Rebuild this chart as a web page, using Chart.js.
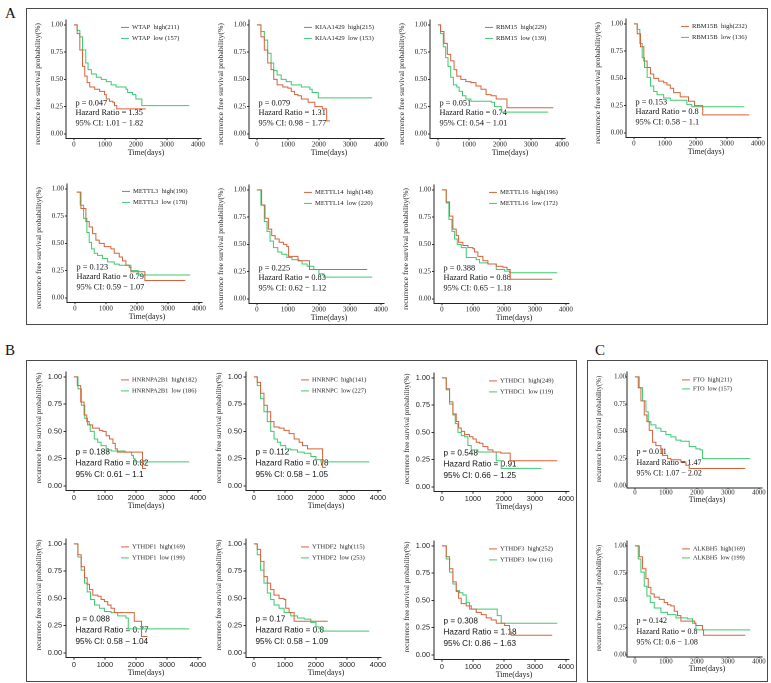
<!DOCTYPE html>
<html><head><meta charset="utf-8">
<script src="https://cdn.jsdelivr.net/npm/chart.js@4.4.1/dist/chart.umd.min.js"></script>
<style>
html,body{margin:0;padding:0;background:#fff}
body{width:771px;height:683px;position:relative;overflow:hidden}
canvas{position:absolute}
.box{position:absolute;border:1.5px solid #4a4a4a;box-sizing:border-box}
.lab{position:absolute;font-family:'Liberation Serif','Times New Roman',serif;font-size:15px;color:#111;line-height:1}
</style></head><body>
<div class="box" style="left:26px;top:8px;width:742px;height:317px"></div>
<div class="box" style="left:26px;top:360px;width:551px;height:322px"></div>
<div class="box" style="left:587px;top:360px;width:181px;height:322px"></div>
<div class="lab" style="left:5px;top:6px">A</div>
<div class="lab" style="left:5px;top:343px">B</div>
<div class="lab" style="left:595px;top:343px">C</div>
<script>
// ---------- data (days, survival probability) ----------
const WTAP_high = [[0,1],[106,0.92],[191,0.77],[277,0.62],[351,0.53],[426,0.47],[511,0.43],[670,0.41],[830,0.39],[989,0.36],[1043,0.32],[1149,0.30],[1255,0.29],[1309,0.26],[1383,0.23],[2320,0.23]];
const WTAP_low = [[0,1],[106,0.95],[191,0.89],[277,0.77],[383,0.65],[457,0.59],[564,0.55],[723,0.52],[883,0.50],[1043,0.48],[1202,0.45],[1362,0.43],[1681,0.41],[1734,0.38],[1894,0.36],[2000,0.32],[2191,0.26],[3720,0.26]];
const KIAA1429_high = [[0,1],[130,0.89],[239,0.77],[348,0.65],[457,0.59],[543,0.50],[652,0.45],[837,0.43],[1000,0.42],[1109,0.39],[1217,0.36],[1326,0.35],[1435,0.32],[1652,0.29],[1870,0.25],[2109,0.23],[2250,0.12],[2360,0.12]];
const KIAA1429_low = [[0,1],[130,0.94],[239,0.86],[348,0.74],[457,0.65],[543,0.58],[652,0.54],[783,0.50],[946,0.48],[1109,0.45],[1435,0.43],[1707,0.41],[1783,0.38],[1978,0.33],[3720,0.33]];
const RBM15_high = [[0,1],[87,0.94],[196,0.83],[304,0.73],[413,0.67],[522,0.59],[609,0.53],[739,0.50],[902,0.48],[1065,0.47],[1228,0.44],[1391,0.41],[1554,0.36],[1717,0.35],[1880,0.32],[2228,0.24],[3720,0.24]];
const RBM15_low = [[0,1],[87,0.92],[174,0.80],[250,0.70],[326,0.62],[413,0.52],[500,0.45],[609,0.43],[685,0.39],[793,0.35],[902,0.32],[1065,0.30],[1717,0.29],[1826,0.25],[2043,0.20],[3560,0.20]];
const RBM15B_high = [[0,1],[107,0.91],[213,0.79],[320,0.66],[427,0.60],[534,0.54],[640,0.50],[800,0.475],[960,0.46],[1067,0.44],[1174,0.41],[1281,0.37],[1494,0.33],[1761,0.29],[1953,0.25],[2220,0.165],[3720,0.165]];
const RBM15B_low = [[0,1],[107,0.95],[192,0.82],[267,0.69],[342,0.60],[427,0.51],[534,0.43],[640,0.38],[747,0.35],[960,0.32],[1174,0.30],[1708,0.26],[1868,0.24],[3560,0.24]];
const METTL3_high = [[60,0.97],[194,0.82],[355,0.70],[462,0.65],[570,0.59],[677,0.53],[785,0.50],[946,0.47],[1161,0.45],[1269,0.41],[1430,0.375],[1538,0.34],[1645,0.30],[1753,0.28],[1806,0.24],[2258,0.16],[3560,0.16]];
const METTL3_low = [[60,0.97],[172,0.85],[280,0.73],[387,0.60],[462,0.51],[538,0.45],[624,0.41],[731,0.39],[892,0.36],[1054,0.33],[1269,0.31],[1430,0.30],[1806,0.25],[2043,0.21],[3720,0.21]];
const METTL14_high = [[0,1],[152,0.86],[261,0.74],[370,0.64],[478,0.58],[587,0.55],[717,0.52],[859,0.50],[967,0.48],[1022,0.39],[1326,0.35],[1696,0.27],[3560,0.27]];
const METTL14_low = [[0,1],[130,0.86],[239,0.71],[326,0.62],[424,0.53],[533,0.47],[674,0.43],[804,0.41],[967,0.38],[1130,0.36],[1348,0.35],[1457,0.32],[1620,0.30],[1837,0.27],[2000,0.23],[2163,0.20],[3720,0.20]];
const METTL16_high = [[0,1],[140,0.89],[247,0.76],[355,0.64],[462,0.58],[538,0.52],[677,0.49],[839,0.47],[1000,0.46],[1054,0.43],[1161,0.39],[1323,0.35],[1484,0.32],[1753,0.30],[1968,0.29],[2100,0.27],[2204,0.18],[3560,0.18]];
const METTL16_low = [[0,1],[140,0.88],[226,0.73],[323,0.62],[409,0.55],[495,0.50],[624,0.47],[785,0.38],[1108,0.36],[1215,0.33],[1484,0.32],[1753,0.27],[2022,0.255],[2183,0.24],[3720,0.24]];
const HNRNPA2B1_high = [[0,1],[110,0.92],[219,0.77],[329,0.65],[416,0.59],[493,0.56],[602,0.53],[821,0.51],[931,0.50],[1040,0.46],[1150,0.43],[1259,0.39],[1336,0.34],[1400,0.31],[2212,0.16],[2322,0.16]];
const HNRNPA2B1_low = [[0,1],[131,0.89],[241,0.74],[350,0.62],[438,0.56],[526,0.50],[657,0.43],[767,0.40],[876,0.37],[1040,0.33],[1205,0.32],[1650,0.31],[1862,0.28],[1920,0.25],[1971,0.22],[3720,0.22]];
const HNRNPC_high = [[0,1],[108,0.95],[216,0.85],[324,0.74],[432,0.68],[541,0.59],[649,0.54],[811,0.53],[973,0.51],[1135,0.48],[1297,0.43],[1459,0.40],[1568,0.37],[1730,0.34],[2216,0.17],[2324,0.17]];
const HNRNPC_low = [[0,1],[108,0.92],[216,0.80],[324,0.68],[432,0.59],[541,0.50],[649,0.43],[757,0.40],[865,0.37],[1027,0.34],[1189,0.33],[1405,0.31],[1622,0.30],[1838,0.27],[2000,0.24],[2162,0.22],[3720,0.22]];
const YTHDC1_high = [[0,1],[140,0.90],[247,0.78],[355,0.67],[462,0.60],[538,0.54],[624,0.51],[731,0.48],[892,0.46],[1000,0.44],[1108,0.41],[1215,0.40],[1323,0.37],[1484,0.34],[1645,0.32],[1900,0.31],[2204,0.24],[3720,0.24]];
const YTHDC1_low = [[0,1],[140,0.89],[247,0.76],[355,0.66],[430,0.58],[516,0.50],[624,0.47],[731,0.46],[839,0.38],[946,0.34],[1161,0.32],[1753,0.24],[1914,0.17],[3204,0.17]];
const YTHDF1_high = [[0,1],[128,0.90],[235,0.79],[342,0.69],[428,0.63],[503,0.58],[610,0.53],[770,0.52],[877,0.49],[984,0.47],[1091,0.44],[1198,0.41],[1305,0.37],[1947,0.29],[2182,0.15],[2374,0.15]];
const YTHDF1_low = [[0,1],[128,0.88],[235,0.76],[342,0.64],[428,0.56],[535,0.49],[663,0.44],[824,0.41],[984,0.38],[1198,0.37],[1412,0.34],[1679,0.32],[1754,0.22],[3720,0.22]];
const YTHDF2_high = [[0,1],[108,0.95],[216,0.84],[324,0.70],[432,0.64],[541,0.58],[649,0.53],[811,0.50],[973,0.49],[1027,0.41],[1135,0.37],[1297,0.29],[2380,0.29]];
const YTHDF2_low = [[0,1],[108,0.90],[216,0.76],[324,0.64],[432,0.55],[541,0.49],[649,0.44],[811,0.41],[973,0.37],[1189,0.34],[1405,0.32],[1622,0.31],[1838,0.28],[2000,0.24],[2100,0.22],[2216,0.20],[3720,0.20]];
const YTHDF3_high = [[0,1],[140,0.90],[247,0.79],[355,0.67],[462,0.58],[538,0.52],[624,0.47],[785,0.45],[946,0.42],[1108,0.39],[1269,0.37],[1430,0.34],[1591,0.32],[1753,0.29],[2022,0.27],[2183,0.21],[2237,0.18],[3560,0.18]];
const YTHDF3_low = [[0,1],[140,0.88],[247,0.76],[355,0.65],[462,0.59],[570,0.57],[677,0.55],[785,0.48],[892,0.42],[1785,0.36],[1914,0.29],[3720,0.29]];
const FTO_high = [[0,1],[108,0.90],[194,0.78],[301,0.65],[387,0.59],[462,0.51],[570,0.40],[677,0.37],[839,0.34],[892,0.28],[1054,0.25],[1161,0.24],[1484,0.22],[1645,0.19],[1753,0.16],[3560,0.16]];
const FTO_low = [[0,1],[140,0.90],[247,0.78],[355,0.68],[430,0.59],[516,0.56],[677,0.53],[839,0.50],[1000,0.47],[1161,0.45],[1323,0.42],[1484,0.41],[1753,0.36],[1968,0.34],[2100,0.33],[2183,0.25],[3720,0.25]];
const ALKBH5_high = [[0,1],[140,0.90],[247,0.79],[355,0.70],[430,0.62],[516,0.56],[624,0.53],[785,0.51],[946,0.48],[1054,0.46],[1161,0.45],[1269,0.40],[1376,0.36],[1484,0.31],[1930,0.29],[1968,0.27],[2183,0.23],[2215,0.18],[3560,0.18]];
const ALKBH5_low = [[0,1],[108,0.88],[194,0.76],[301,0.63],[387,0.54],[495,0.48],[624,0.43],[839,0.39],[1054,0.37],[1323,0.34],[1699,0.33],[1860,0.29],[1968,0.23],[3720,0.23]];

const GENES = ['WTAP','KIAA1429','RBM15','RBM15B','METTL3','METTL14','METTL16','HNRNPA2B1','HNRNPC','YTHDC1','YTHDF1','YTHDF2','YTHDF3','FTO','ALKBH5'];
const N_HIGH = [211,215,229,232,190,148,196,182,141,249,169,115,252,211,169];
const N_LOW  = [157,153,139,136,178,220,172,186,227,119,199,253,116,157,199];
const P_VALUES = ['0.047','0.079','0.051','0.153','0.123','0.225','0.388','0.188','0.112','0.548','0.088','0.17','0.308','0.011','0.142'];
const HAZARD_RATIOS = ['1.35','1.31','0.74','0.8','0.79','0.83','0.88','0.82','0.78','0.91','0.77','0.8','1.18','1.47','0.8'];
const CI_LOW  = ['1.01','0.98','0.54','0.58','0.59','0.62','0.65','0.61','0.58','0.66','0.58','0.58','0.86','1.07','0.6'];
const CI_HIGH = ['1.82','1.77','1.01','1.1','1.07','1.12','1.18','1.1','1.05','1.25','1.04','1.09','1.63','2.02','1.08'];
const HIGH_CURVES = [WTAP_high,KIAA1429_high,RBM15_high,RBM15B_high,METTL3_high,METTL14_high,METTL16_high,HNRNPA2B1_high,HNRNPC_high,YTHDC1_high,YTHDF1_high,YTHDF2_high,YTHDF3_high,FTO_high,ALKBH5_high];
const LOW_CURVES  = [WTAP_low,KIAA1429_low,RBM15_low,RBM15B_low,METTL3_low,METTL14_low,METTL16_low,HNRNPA2B1_low,HNRNPC_low,YTHDC1_low,YTHDF1_low,YTHDF2_low,YTHDF3_low,FTO_low,ALKBH5_low];
const X_TICKS = [0,1000,2000,3000,4000];
const Y_TICKS = [0,0.25,0.5,0.75,1];
const X_TITLE = 'Time(days)';
const Y_TITLE = 'recurrence free survival probability(%)';

// ---------- layout (page position of each panel's y-axis line and of y = 1.00) ----------
const AXIS_X = [66,248.5,430,626,67,248.5,434,66,246,433.5,66,246,433.5,627,627];
const Y_ONE  = [25,25,25,24,188.5,190,189.5,376.7,376.7,377.7,544,544,545.7,377.3,545.7];
const GROUP  = ['A','A','A','A','A','A','A','B','B','B','B','B','B','C','C'];

const SERIF = "'Liberation Serif','Times New Roman',serif";
const SANS = "'Liberation Sans',Arial,sans-serif";
const HIGH_COLOR = '#D5623A';
const LOW_COLOR = '#3CC96F';
const STYLE = {
  A:{tick:{family:SERIF,size:7},ann:{family:SERIF,size:8.3},leg:6.6,yt:7.8,ytDx:-28.3,ytDy:59,xtDy:128,annDy:[78.3,88,98.3],legDy:[2.5,13.5],yMin:-0.04,tl:2,pad:1},
  B:{tick:{family:SANS,size:7.3},ann:{family:SANS,size:8.2},leg:6.4,yt:7.1,ytDx:-26.7,ytDy:51,xtDy:129,annDy:[75.5,86.5,98],legDy:[3,14],yMin:-0.04,tl:2.5,pad:1.5},
  C:{tick:{family:SERIF,size:6.8},ann:{family:SERIF,size:8},leg:6.2,yt:6.8,ytDx:-27.7,ytDy:52,xtDy:123,annDy:[75,86,96.5],legDy:[3,12],yMin:-0.02,tl:1,pad:0}
};
const X_MIN = -255, X_MAX = 4100, Y_MAX = 1.045;
const AREA_W = 135, PXY = 109, WY = 34, PT = 10, PR = 10, HX = 26;

const panelText = {
  id:'panelText',
  beforeDatasetsDraw(chart){
    const i = chart.options.plugins.panelText.index;
    const st = STYLE[GROUP[i]];
    const ctx = chart.ctx, ys = chart.scales.y;
    const ax = chart.chartArea.left, y1 = ys.getPixelForValue(1);
    ctx.save();
    ctx.fillStyle = '#111';
    ctx.textBaseline = 'middle';
    ctx.textAlign = 'left';
    ctx.font = st.ann.size + 'px ' + st.ann.family;
    const lines = ['p = ' + P_VALUES[i], 'Hazard Ratio = ' + HAZARD_RATIOS[i], '95% CI: ' + CI_LOW[i] + ' \u2212 ' + CI_HIGH[i]];
    lines.forEach((t,k)=>ctx.fillText(t, ax + 9.5, y1 + st.annDy[k]));
    ctx.restore();
  },
  afterDraw(chart){
    const i = chart.options.plugins.panelText.index;
    const st = STYLE[GROUP[i]];
    const ctx = chart.ctx, ys = chart.scales.y;
    const ax = chart.chartArea.left, y1 = ys.getPixelForValue(1);
    ctx.save();
    ctx.font = st.leg + 'px ' + SERIF;
    ctx.textBaseline = 'middle';
    ctx.textAlign = 'left';
    const legs = [[HIGH_COLOR, GENES[i] + '  high(' + N_HIGH[i] + ')'], [LOW_COLOR, GENES[i] + '  low (' + N_LOW[i] + ')']];
    legs.forEach((l,k)=>{
      const y = y1 + st.legDy[k];
      ctx.strokeStyle = l[0]; ctx.lineWidth = 1;
      ctx.beginPath(); ctx.moveTo(ax + 55, y); ctx.lineTo(ax + 63, y); ctx.stroke();
      ctx.fillStyle = '#222';
      ctx.fillText(l[1], ax + 66, y);
    });
    ctx.fillStyle = '#222';
    ctx.textAlign = 'center';
    ctx.font = '8px ' + SERIF;
    ctx.fillText(X_TITLE, ax + 80, y1 + st.xtDy);
    ctx.translate(ax + st.ytDx, y1 + st.ytDy);
    ctx.rotate(-Math.PI/2);
    ctx.font = st.yt + 'px ' + SERIF;
    ctx.fillText(Y_TITLE, 0, 0);
    ctx.restore();
  }
};

function makePanel(i){
  const st = STYLE[GROUP[i]];
  const areaH = (Y_MAX - st.yMin) * PXY;
  const cv = document.createElement('canvas');
  cv.width = WY + AREA_W + PR;
  cv.height = Math.round(PT + areaH + HX);
  const topPx = Y_ONE[i] - (Y_MAX - 1) * PXY - PT;
  cv.style.left = (AXIS_X[i] - WY) + 'px';
  cv.style.top = topPx + 'px';
  document.body.appendChild(cv);
  const hxEff = cv.height - PT - areaH;
  const axisCommon = {
    grid:{display:true, drawOnChartArea:false, drawTicks:true, tickLength:st.tl, color:'#333', lineWidth:1},
    border:{display:true, color:'#222', width:1}
  };
  new Chart(cv, {
    type:'line',
    data:{datasets:[
      {data:HIGH_CURVES[i].map(p=>({x:p[0], y:p[1]})), borderColor:HIGH_COLOR, borderWidth:1, pointRadius:0, stepped:'before', fill:false},
      {data:LOW_CURVES[i].map(p=>({x:p[0], y:p[1]})), borderColor:LOW_COLOR, borderWidth:1, pointRadius:0, stepped:'before', fill:false}
    ]},
    options:{
      responsive:false, animation:false, devicePixelRatio:2,
      layout:{padding:{left:0, top:PT, right:PR, bottom:0}},
      plugins:{legend:{display:false}, tooltip:{enabled:false}, panelText:{index:i}},
      scales:{
        x:Object.assign({type:'linear', min:X_MIN, max:X_MAX,
          afterFit:s=>{s.height = hxEff;},
          afterBuildTicks:s=>{s.ticks = X_TICKS.map(v=>({value:v}));},
          ticks:{font:Object.assign({lineHeight:1}, st.tick), color:'#222', padding:st.pad, maxRotation:0, autoSkip:false, callback:v=>String(v)}
        }, axisCommon),
        y:Object.assign({type:'linear', min:st.yMin, max:Y_MAX,
          afterFit:s=>{s.width = WY;},
          afterBuildTicks:s=>{s.ticks = Y_TICKS.map(v=>({value:v}));},
          ticks:{font:Object.assign({lineHeight:1}, st.tick), color:'#222', padding:st.pad, autoSkip:false, callback:v=>Number(v).toFixed(2)}
        }, axisCommon)
      }
    },
    plugins:[panelText]
  });
}
for (let i = 0; i < GENES.length; i++) makePanel(i);
</script>
</body></html>
